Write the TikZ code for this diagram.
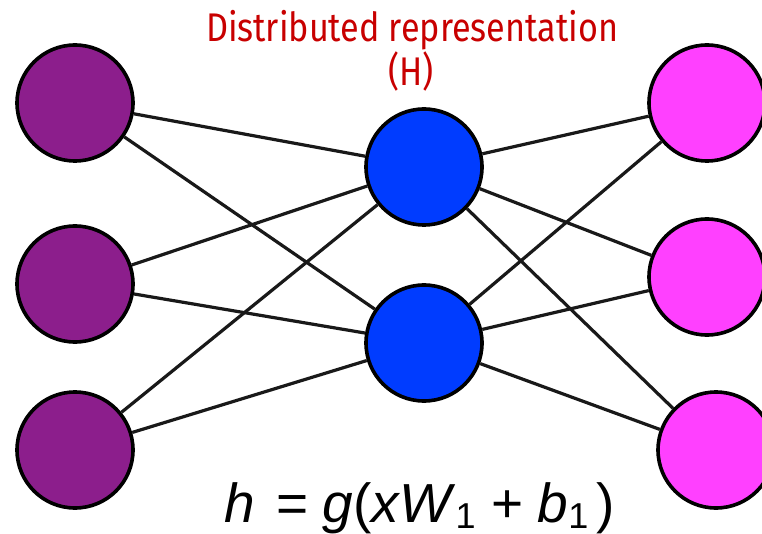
\documentclass[tikz,border=0pt]{standalone}
\usepackage{fontspec}
\usepackage{graphicx}
\newfontfamily\titlefont{Fira Sans}
\newfontfamily\formfont{Liberation Sans}
\definecolor{inpurple}{RGB}{140,30,140}
\definecolor{hidblue}{RGB}{0,60,255}
\definecolor{outpink}{RGB}{255,64,255}
\definecolor{titlered}{RGB}{200,0,0}
\newlength\dlen
\newcommand\subone{\raisebox{-6pt}{\fontsize{36}{40}\selectfont 1}}
\begin{document}
\settowidth\dlen{\titlefont\fontsize{40}{48}\selectfont Distributed representation}%
\pgfmathsetmacro\dscale{412/\dlen}%
\begin{tikzpicture}[x=1pt,y=-1pt,
  neuron/.style={circle,draw=black,line width=3.6pt,minimum size=116pt,inner sep=0pt},
  inl/.style={neuron,fill=inpurple},
  hidl/.style={neuron,fill=hidblue},
  outl/.style={neuron,fill=outpink},
  wire/.style={draw=black!90,line width=3.2pt}]
\useasboundingbox (0,0) rectangle (762,534);
\clip (0,0) rectangle (762,534);
\node[inl] (i1) at (75,103) {};
\node[inl] (i2) at (75,284) {};
\node[inl] (i3) at (75,450) {};
\node[hidl] (h1) at (424,167) {};
\node[hidl] (h2) at (424,343) {};
\node[outl] (o1) at (707,103) {};
\node[outl] (o2) at (707,277) {};
\node[outl] (o3) at (716,450) {};
\foreach \a in {i1,i2,i3}{\foreach \b in {h1,h2}{\draw[wire] (\a) -- (\b);}}
\foreach \a in {h1,h2}{\foreach \b in {o1,o2,o3}{\draw[wire] (\a) -- (\b);}}
\node[anchor=base,inner sep=0pt,text=titlered] (t1) at (412,42)
  {\scalebox{\dscale}[1]{\titlefont\fontsize{40}{48}\selectfont Distributed representation}};
\node[anchor=base,inner sep=0pt,text=titlered] (t2) at (411,86)
  {\scalebox{\dscale}[1]{\titlefont\fontsize{40}{48}\selectfont (H)}};
\node[anchor=base west,inner sep=0pt] (f) at (224,522)
  {\formfont\fontsize{55}{60}\selectfont
   \textit{h}\hspace{22pt}=\hspace{14pt}\textit{g}(\textit{xW}\subone\hspace{16pt}+\hspace{14pt}\textit{b}\subone\hspace{8pt})};
\end{tikzpicture}
\end{document}
